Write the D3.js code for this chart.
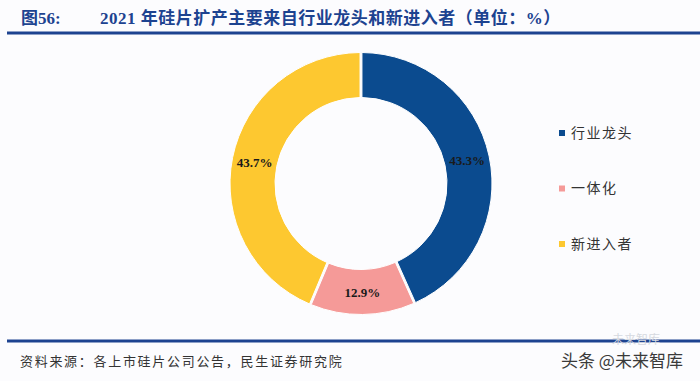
<!DOCTYPE html>
<html>
<head>
<meta charset="utf-8">
<script src="https://cdn.jsdelivr.net/npm/d3@7"></script>
<style>
  body { margin: 0; background: #fcfcfe; }
  svg { display: block; }
</style>
</head>
<body>
<script>
 // chart data
 var categories = ["行业龙头", "一体化", "新进入者"];
 var values = [43.3, 12.9, 43.7];
 var labels = ["43.3%", "12.9%", "43.7%"];
 var colors = ["#0b4b8f", "#f59a98", "#fdc830"];

 var W = 700, H = 381;
 var cx = 361, cy = 183.5;
 var outerR = 131, innerR = 86;

 var svg = d3.select("body").append("svg")
   .attr("width", W)
   .attr("height", H);

 svg.append("rect").attr("width", W).attr("height", H).attr("fill", "#fcfcfe");

 // header
 svg.append("text")
   .attr("x", 21).attr("y", 24)
   .attr("font-family", "'Liberation Serif','Noto Sans CJK SC',serif")
   .attr("font-weight", "bold")
   .attr("font-size", 17)
   .attr("fill", "#1d4390")
   .text("图56:");

 svg.append("text")
   .attr("x", 100).attr("y", 24)
   .attr("font-family", "'Liberation Serif','Noto Sans CJK SC',serif")
   .attr("font-weight", "bold")
   .attr("font-size", 17)
   .attr("letter-spacing", 0.5)
   .attr("fill", "#1d4390")
   .text("2021 年硅片扩产主要来自行业龙头和新进入者（单位：%）");

 svg.append("rect").attr("x", 7).attr("y", 31.5).attr("width", 693).attr("height", 3).attr("fill", "#1d4390");
 svg.append("rect").attr("x", 7).attr("y", 339.5).attr("width", 693).attr("height", 3).attr("fill", "#1d4390");

 // donut
 var pie = d3.pie().sort(null).value(function(d){ return d; }).padAngle(0.012);
 var arc = d3.arc().innerRadius(innerR).outerRadius(outerR);
 var labelArc = d3.arc().innerRadius((innerR + outerR) / 2).outerRadius((innerR + outerR) / 2);

 var g = svg.append("g").attr("transform", "translate(" + cx + "," + cy + ")");
 var arcs = pie(values);

 g.selectAll("path.slice")
   .data(arcs)
   .enter().append("path")
   .attr("class", "slice")
   .attr("d", arc)
   .attr("fill", function(d, i){ return colors[i]; })
   .attr("stroke", "#ffffff")
   .attr("stroke-width", 1);

 g.selectAll("text.lbl")
   .data(arcs)
   .enter().append("text")
   .attr("class", "lbl")
   .attr("transform", function(d){ return "translate(" + labelArc.centroid(d) + ")"; })
   .attr("text-anchor", "middle")
   .attr("dy", "0.35em")
   .attr("font-family", "'Liberation Serif',serif")
   .attr("font-weight", "bold")
   .attr("font-size", 13)
   .attr("fill", "#1a1a1a")
   .text(function(d, i){ return labels[i]; });

 // legend
 var legendY = d3.scalePoint().domain(categories).range([133, 244]);
 var lg = svg.selectAll("g.legend")
   .data(categories)
   .enter().append("g")
   .attr("class", "legend")
   .attr("transform", function(d){ return "translate(559," + legendY(d) + ")"; });

 lg.append("rect")
   .attr("x", 0).attr("y", -3)
   .attr("width", 6).attr("height", 6)
   .attr("fill", function(d, i){ return colors[i]; });

 lg.append("text")
   .attr("x", 12).attr("y", 0)
   .attr("dy", "0.35em")
   .attr("font-family", "'Noto Sans CJK SC',sans-serif")
   .attr("font-size", 14)
   .attr("letter-spacing", 1.5)
   .attr("fill", "#333333")
   .text(function(d){ return d; });

 // footer
 svg.append("text")
   .attr("x", 20).attr("y", 366)
   .attr("font-family", "'Noto Sans CJK SC',sans-serif")
   .attr("font-size", 13)
   .attr("letter-spacing", 1.7)
   .attr("fill", "#333333")
   .text("资料来源：各上市硅片公司公告，民生证券研究院");

 // watermark
 svg.append("text")
   .attr("x", 612).attr("y", 344)
   .attr("font-family", "'Noto Sans CJK SC',sans-serif")
   .attr("font-size", 12)
   .attr("fill", "#d6d9e0")
   .text("未来智库");

 svg.append("text")
   .attr("x", 561).attr("y", 367)
   .attr("font-family", "'Noto Sans CJK SC',sans-serif")
   .attr("font-size", 17)
   .attr("fill", "#3a3a3a")
   .text("头条 @未来智库");
</script>
</body>
</html>
